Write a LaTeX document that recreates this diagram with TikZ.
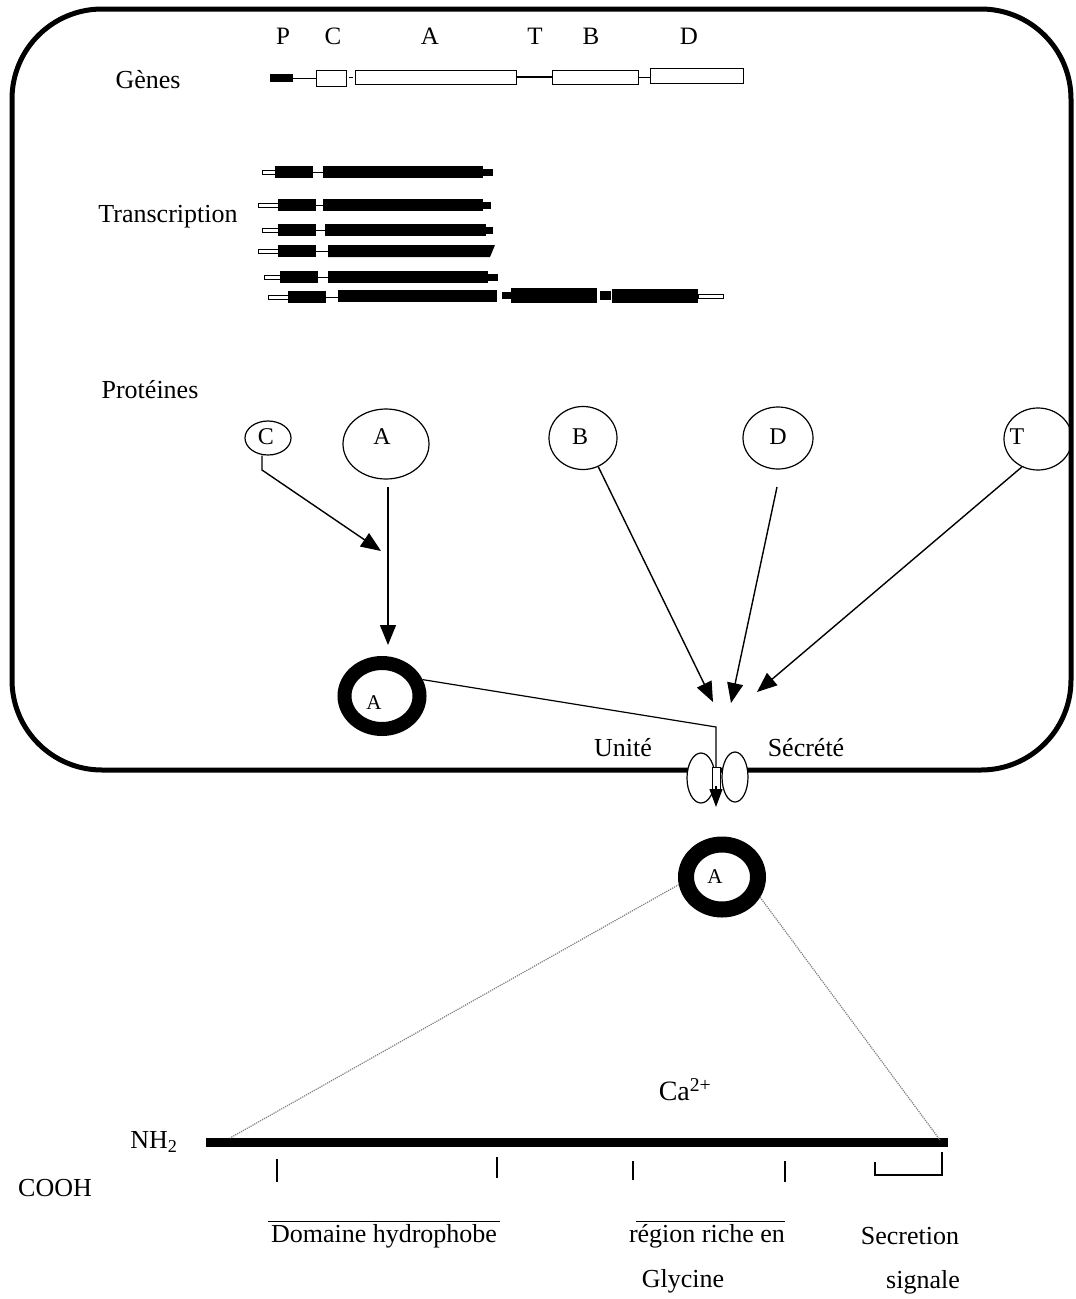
\documentclass[tikz,border=0pt]{standalone}
\usepackage{fontspec}
\setmainfont{Liberation Serif}
\usetikzlibrary{arrows.meta,shapes.geometric}
\begin{document}
\begin{tikzpicture}[x=1pt,y=-1pt,
  lbl/.style={font=\fontsize{26}{30}\selectfont, inner sep=0},
  gl/.style={font=\fontsize{25}{29}\selectfont, inner sep=0},
  cl/.style={font=\fontsize{24}{28}\selectfont, inner sep=0},
  pc/.style={draw, ellipse, line width=1.2pt, inner sep=0},
  gbox/.style={draw, line width=1pt, fill=white, inner sep=0},
  pbox/.style={fill=black, inner sep=0},
  thin/.style={line width=1pt},
  tailbar/.style={draw, fill=white, line width=0.7pt},
  arr/.style={line width=1.4pt, -{Triangle[length=20pt,width=16pt]}},
  ring/.style={draw, ellipse, inner sep=0},
  dotl/.style={gray, densely dotted, line width=1.2pt},
  tick/.style={line width=1.4pt},
]
\useasboundingbox (0,0) rectangle (1076,1299);
\fill[white] (0,0) rectangle (1076,1299);

% cell border
\draw[line width=5pt, rounded corners=90pt] (12,9) rectangle (1071,770);

% ---- genes
\node[gl] (lP) at (283,36) {P};
\node[gl] (lC) at (333,36) {C};
\node[gl] (lA) at (430,36) {A};
\node[gl] (lT) at (535,36) {T};
\node[gl] (lB) at (591,36) {B};
\node[gl] (lD) at (689,36) {D};
\node[lbl] (genes) at (148,80) {Gènes};
\node[pbox, minimum width=23, minimum height=8] (gP) at (281.5,78) {};
\node[gbox, minimum width=30, minimum height=16] (gC) at (331,78) {};
\node[gbox, minimum width=161, minimum height=14] (gA) at (435.5,77) {};
\node[gbox, minimum width=86, minimum height=14] (gB) at (595,77) {};
\node[gbox, minimum width=93, minimum height=15] (gD) at (696.5,76) {};
\draw[thin] (gP.east) -- (gP.east -| gC.west);
\draw[thin] (349,77) -- (353,77);
\draw[line width=1.3pt] (gA.east) -- (gA.east -| gB.west);
\draw[thin] (gB.east) -- (gB.east -| gD.west);

% ---- transcription
\node[lbl] (transc) at (168,217) {Transcription};
\foreach \y/\t/\a/\b/\c/\d/\e in {172/262/275/313/323/483/493, 205/258/278/316/323/483/491, 230/262/278/316/325/486/493, 277/264/280/318/328/488/498}{
  \draw[tailbar] (\t,\y-2) rectangle (\a,\y+2);
  \fill (\a,\y-6) rectangle (\b,\y+6);
  \draw[thin] (\b,\y) -- (\c,\y);
  \fill (\c,\y-6) rectangle (\d,\y+6);
  \fill (\d,\y-3.5) rectangle (\e,\y+3.5);
}
% row 4 (slanted end)
\draw[tailbar] (258,249) rectangle (278,253);
\fill (278,245) rectangle (316,257);
\draw[thin] (316,251) -- (328,251);
\fill (328,245) -- (495,245) -- (490,257) -- (328,257) -- cycle;
% row 6 (long)
\draw[tailbar] (268,295) rectangle (288,299);
\fill (288,291) rectangle (326,303);
\draw[thin] (326,297) -- (338,297);
\fill (338,290) rectangle (497,302);
\fill (502,292) rectangle (511,299);
\fill (511,288) rectangle (597,303);
\fill (600,291) rectangle (611,300);
\fill (612,289) rectangle (698,303);
\draw[tailbar] (698,294) rectangle (723,298);

% ---- proteins
\node[lbl] (prot) at (150,390) {Protéines};
\node[pc, minimum width=46, minimum height=34] (pC) at (268,438) {};
\node[pc, minimum width=86, minimum height=70] (pA) at (386,444) {};
\node[pc, minimum width=68, minimum height=63] (pB) at (583,438) {};
\node[pc, minimum width=70, minimum height=62] (pD) at (778,438) {};
\node[pc, minimum width=68, minimum height=62] (pT) at (1038,439) {};
\node[cl] (tC) at (266,437) {C};
\node[cl] (tA) at (382,437) {A};
\node[cl] (tB) at (580,437) {B};
\node[cl] (tD) at (778,437) {D};
\node[cl] (tT) at (1017,437) {T};

\coordinate (cBend) at (262,470);
\coordinate (cTip) at (381,551);
\coordinate (aStart) at (388,487);
\coordinate (aTip) at (388,645);
\coordinate (bTip) at (713,702);
\coordinate (dStart) at (777,487);
\coordinate (dTip) at (731,703);
\coordinate (tTip) at (757,692);
\draw[arr] ([xshift=-6pt]pC.south) -- (cBend) -- (cTip);
\draw[arr] (aStart) -- (aTip);
\draw[arr] (pB.-62) -- (bTip);
\draw[arr] (dStart) -- (dTip);
\draw[arr] (pT.-120) -- (tTip);

% ---- secreted unit
\node[ring, line width=14pt, minimum width=75, minimum height=66] (ring1) at (382,696) {};
\node[font=\fontsize{21}{24}\selectfont, inner sep=0] (r1A) at (374,703) {A};
\node[lbl] (unite) at (623,748) {Unité};
\node[lbl] (secrete) at (806,748) {Sécrété};

% channel
\node[pc, fill=white, minimum width=28, minimum height=50] (chL) at (701,778) {};
\node[pc, fill=white, minimum width=26, minimum height=50] (chR) at (735,777) {};
\coordinate (bend) at (716,727);
\coordinate (chTop) at (716,767);
\coordinate (chMid) at (716,786);
\coordinate (chTip) at (716,807);
\draw[line width=1.2pt] (ring1.22) -- (bend) -- (chTop);
\draw[line width=0.9pt, fill=white] (712,767) rectangle (720,790);
\draw[line width=1.2pt, -{Triangle[length=18pt,width=13pt]}] (chMid) -- (chTip);

% ---- secreted protein
\node[ring, line width=16pt, minimum width=72, minimum height=65] (ring2) at (722,877) {};
\node[font=\fontsize{21}{24}\selectfont, inner sep=0] (r2A) at (715,877) {A};
\node[font=\fontsize{28}{32}\selectfont, inner sep=0] (ca) at (685,1090) {Ca\textsuperscript{2+}};
\node[pbox, minimum width=742, minimum height=9] (bar) at (577,1142) {};
\coordinate (barL) at (230,1138);
\coordinate (barR) at (940,1140);
\draw[dotl] (ring2.190) -- (barL);
\draw[dotl] (ring2.-28) -- (barR);

\node[lbl] (nh2) at (154,1142) {NH\textsubscript{2}};
\node[lbl] (cooh) at (55,1188) {COOH};

\draw[tick] (277,1159) -- (277,1182);
\draw[tick] (497,1157) -- (497,1178);
\draw[tick] (633,1161) -- (633,1180);
\draw[tick] (785,1161) -- (785,1182);
\draw[line width=1.3pt] (875,1162) -- (875,1175) -- (942,1175) -- (942,1152);

\draw[thin] (268,1221) -- (500,1221);
\draw[thin] (636,1221) -- (785,1221);
\node[lbl] (dom) at (384,1236) {Domaine hydrophobe};
\node[lbl] (reg) at (707,1236) {région riche en};
\node[lbl] (gly) at (683,1281) {Glycine};
\node[lbl] (sec) at (910,1236) {Secretion};
\node[lbl] (sig) at (923,1282) {signale};
\end{tikzpicture}
\end{document}
